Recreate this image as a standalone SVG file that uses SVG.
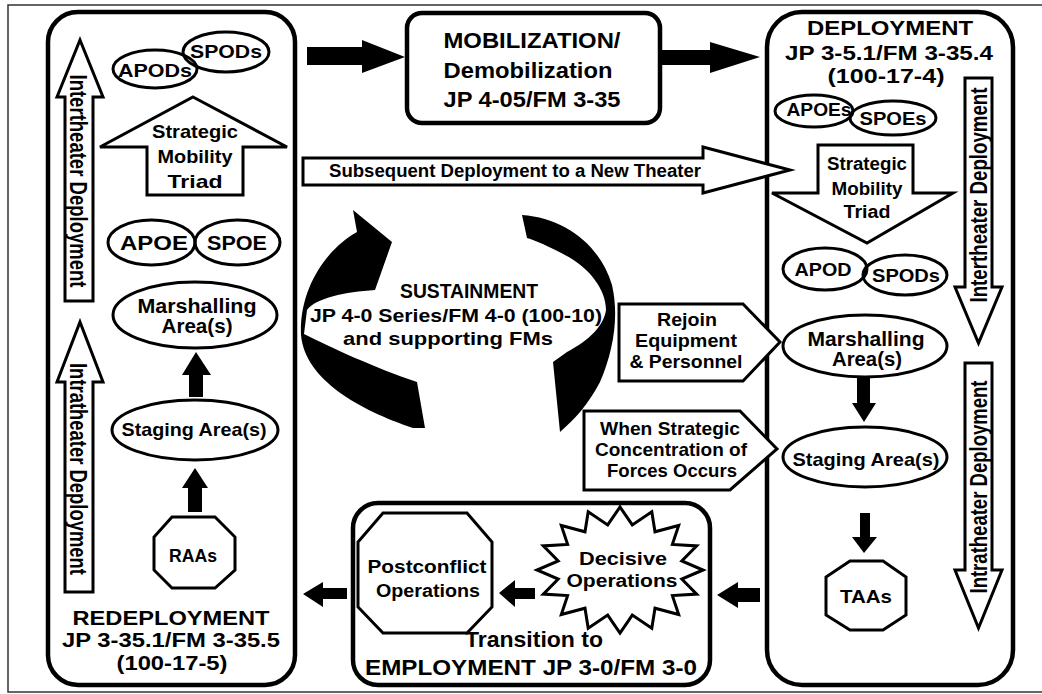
<svg xmlns="http://www.w3.org/2000/svg" width="1042" height="694" viewBox="0 0 1042 694">
<style>
.t{font-family:"Liberation Sans",Arial,Helvetica,sans-serif;font-weight:bold;fill:#000;text-anchor:middle}
.sh{fill:#fff;stroke:#000;stroke-width:3;stroke-linejoin:miter}
.ov{fill:none;stroke:#000;stroke-width:3}
.pn{fill:none;stroke:#000;stroke-width:4.5}
.bk{fill:#000;stroke:none}
</style>
<rect x="0" y="0" width="1042" height="694" fill="#fff"/>
<path d="M1042,5 H8 V692 H1042" fill="none" stroke="#333" stroke-width="1.5"/>

<g id="redeployment">
<rect class="pn" x="48" y="12" width="247" height="673" rx="30"/>
<text class="t" x="171" y="625" font-size="20" textLength="197" lengthAdjust="spacingAndGlyphs">REDEPLOYMENT</text>
<text class="t" x="171" y="647" font-size="20" textLength="218" lengthAdjust="spacingAndGlyphs">JP 3-35.1/FM 3-35.5</text>
<text class="t" x="172" y="670" font-size="20" textLength="111" lengthAdjust="spacingAndGlyphs">(100-17-5)</text>
</g>

<g id="left-intertheater">
<path class="sh" d="M80,40 L103,97 H93 V301 H65 V97 H57 Z"/>
<text class="t" transform="translate(70,181) rotate(90)" font-size="24" textLength="213" lengthAdjust="spacingAndGlyphs">Intertheater Deployment</text>
</g>
<g id="left-intratheater">
<path class="sh" d="M80,322 L103,382 H93 V592 H65 V382 H57 Z"/>
<text class="t" transform="translate(70,469) rotate(90)" font-size="24" textLength="212" lengthAdjust="spacingAndGlyphs">Intratheater Deployment</text>
</g>

<g id="apods">
<ellipse class="ov" cx="155" cy="69" rx="42" ry="19"/>
<text class="t" x="155" y="77" font-size="19" textLength="74" lengthAdjust="spacingAndGlyphs">APODs</text>
</g>
<g id="spods-left">
<ellipse class="ov" cx="226" cy="52" rx="43" ry="20"/>
<text class="t" x="226" y="58" font-size="19" textLength="72" lengthAdjust="spacingAndGlyphs">SPODs</text>
</g>
<g id="triad-left">
<path class="sh" d="M193,97 L287,147 H243 V195 H147 V147 H100 Z"/>
<text class="t" x="195" y="138" font-size="19" textLength="86" lengthAdjust="spacingAndGlyphs">Strategic</text>
<text class="t" x="195" y="163" font-size="19" textLength="75" lengthAdjust="spacingAndGlyphs">Mobility</text>
<text class="t" x="195" y="188" font-size="19" textLength="55" lengthAdjust="spacingAndGlyphs">Triad</text>
</g>
<g id="apoe">
<ellipse class="ov" cx="151.5" cy="242.5" rx="43.5" ry="22.5"/>
<text class="t" x="154" y="250" font-size="20" textLength="68" lengthAdjust="spacingAndGlyphs">APOE</text>
</g>
<g id="spoe">
<ellipse class="ov" cx="237.5" cy="242.5" rx="42.5" ry="22.5"/>
<text class="t" x="237" y="250" font-size="20" textLength="60" lengthAdjust="spacingAndGlyphs">SPOE</text>
</g>
<g id="marshalling-left">
<ellipse class="ov" cx="195" cy="315" rx="82" ry="33"/>
<text class="t" x="197" y="313" font-size="20" textLength="119" lengthAdjust="spacingAndGlyphs">Marshalling</text>
<text class="t" x="197" y="333" font-size="20" textLength="71" lengthAdjust="spacingAndGlyphs">Area(s)</text>
</g>
<g id="staging-left">
<ellipse class="ov" cx="195" cy="430" rx="83" ry="30"/>
<text class="t" x="194" y="436" font-size="19" textLength="145" lengthAdjust="spacingAndGlyphs">Staging Area(s)</text>
</g>
<g id="raas">
<polygon class="sh" points="172,517 215,517 235,537 235,570 215,588 172,588 154,570 154,537"/>
<text class="t" x="193" y="562" font-size="18" textLength="48" lengthAdjust="spacingAndGlyphs">RAAs</text>
</g>

<g id="mobilization">
<rect class="pn" x="407" y="13" width="253" height="110" rx="15"/>
<text class="t" x="532" y="48" font-size="22" textLength="177" lengthAdjust="spacingAndGlyphs">MOBILIZATION/</text>
<text class="t" x="528" y="78" font-size="22" textLength="169" lengthAdjust="spacingAndGlyphs">Demobilization</text>
<text class="t" x="532" y="107" font-size="22" textLength="177" lengthAdjust="spacingAndGlyphs">JP 4-05/FM 3-35</text>
</g>

<g id="deployment">
<rect class="pn" x="767" y="12" width="246" height="673" rx="35"/>
<text class="t" x="890" y="35" font-size="20" textLength="166" lengthAdjust="spacingAndGlyphs">DEPLOYMENT</text>
<text class="t" x="889" y="60" font-size="20" textLength="208" lengthAdjust="spacingAndGlyphs">JP 3-5.1/FM 3-35.4</text>
<text class="t" x="886" y="83" font-size="20" textLength="117" lengthAdjust="spacingAndGlyphs">(100-17-4)</text>
</g>
<g id="right-intertheater">
<path class="sh" d="M965,78 H992 V287 H1002 L978.5,343 L955,287 H965 Z"/>
<text class="t" transform="translate(987,195) rotate(-90)" font-size="24" textLength="215" lengthAdjust="spacingAndGlyphs">Intertheater Deployment</text>
</g>
<g id="right-intratheater">
<path class="sh" d="M965,363 H992 V570 H1002 L978.5,628 L955,570 H965 Z"/>
<text class="t" transform="translate(987,487) rotate(-90)" font-size="24" textLength="213" lengthAdjust="spacingAndGlyphs">Intratheater Deployment</text>
</g>
<g id="apoes">
<ellipse class="ov" cx="814" cy="111" rx="39" ry="16"/>
<text class="t" x="819" y="116" font-size="18" textLength="65" lengthAdjust="spacingAndGlyphs">APOEs</text>
</g>
<g id="spoes">
<ellipse class="ov" cx="893" cy="118" rx="43" ry="17"/>
<text class="t" x="893" y="125" font-size="18" textLength="67" lengthAdjust="spacingAndGlyphs">SPOEs</text>
</g>
<g id="triad-right">
<path class="sh" d="M818,145 H913 V193 H953 L867,243 L772,193 H818 Z"/>
<text class="t" x="867" y="170" font-size="18" textLength="80" lengthAdjust="spacingAndGlyphs">Strategic</text>
<text class="t" x="867" y="195" font-size="18" textLength="71" lengthAdjust="spacingAndGlyphs">Mobility</text>
<text class="t" x="867" y="218" font-size="18" textLength="47" lengthAdjust="spacingAndGlyphs">Triad</text>
</g>
<g id="apod">
<ellipse class="ov" cx="825" cy="269" rx="42" ry="21"/>
<text class="t" x="823" y="276" font-size="18" textLength="57" lengthAdjust="spacingAndGlyphs">APOD</text>
</g>
<g id="spods-right">
<ellipse class="ov" cx="905" cy="275" rx="42" ry="20"/>
<text class="t" x="906" y="282" font-size="18" textLength="68" lengthAdjust="spacingAndGlyphs">SPODs</text>
</g>
<g id="marshalling-right">
<ellipse class="ov" cx="865" cy="346" rx="82" ry="31"/>
<text class="t" x="866" y="346" font-size="20" textLength="117" lengthAdjust="spacingAndGlyphs">Marshalling</text>
<text class="t" x="867" y="366" font-size="20" textLength="70" lengthAdjust="spacingAndGlyphs">Area(s)</text>
</g>
<g id="staging-right">
<ellipse class="ov" cx="865" cy="457" rx="82" ry="30"/>
<text class="t" x="866" y="466" font-size="19" textLength="147" lengthAdjust="spacingAndGlyphs">Staging Area(s)</text>
</g>
<g id="taas">
<polygon class="sh" points="850,561 883,561 906,577 906,615 883,630 850,630 826,615 826,577"/>
<text class="t" x="866" y="603" font-size="18" textLength="52" lengthAdjust="spacingAndGlyphs">TAAs</text>
</g>

<g id="rejoin">
<polygon class="sh" points="619,304 743,304 780,342 743,381 619,381"/>
<text class="t" x="687" y="326" font-size="19" textLength="60" lengthAdjust="spacingAndGlyphs">Rejoin</text>
<text class="t" x="686" y="347" font-size="19" textLength="102" lengthAdjust="spacingAndGlyphs">Equipment</text>
<text class="t" x="686" y="368" font-size="19" textLength="113" lengthAdjust="spacingAndGlyphs">&amp; Personnel</text>
</g>
<g id="concentration">
<polygon class="sh" points="584,411 740,411 777,449 730,490 584,490"/>
<text class="t" x="670" y="435" font-size="19" textLength="140" lengthAdjust="spacingAndGlyphs">When Strategic</text>
<text class="t" x="671" y="456" font-size="19" textLength="152" lengthAdjust="spacingAndGlyphs">Concentration of</text>
<text class="t" x="672" y="477" font-size="19" textLength="130" lengthAdjust="spacingAndGlyphs">Forces Occurs</text>
</g>

<g id="sustainment">
<text class="t" x="469" y="298" font-size="20" textLength="138" lengthAdjust="spacingAndGlyphs">SUSTAINMENT</text>
<text class="t" x="456" y="322" font-size="19" textLength="292" lengthAdjust="spacingAndGlyphs">JP 4-0 Series/FM 4-0 (100-10)</text>
<text class="t" x="448" y="345" font-size="19" textLength="210" lengthAdjust="spacingAndGlyphs">and supporting FMs</text>
</g>

<g id="employment">
<rect class="pn" x="353" y="503" width="357" height="182" rx="25"/>
<text class="t" x="534" y="647" font-size="22" textLength="138" lengthAdjust="spacingAndGlyphs">Transition to</text>
<text class="t" x="531" y="675" font-size="22" textLength="332" lengthAdjust="spacingAndGlyphs">EMPLOYMENT JP 3-0/FM 3-0</text>
</g>
<g id="postconflict">
<polygon class="sh" points="383,513 467,513 492,542 492,607 467,633 383,633 358,607 358,542"/>
<text class="t" x="427" y="573" font-size="18" textLength="119" lengthAdjust="spacingAndGlyphs">Postconflict</text>
<text class="t" x="428" y="597" font-size="18" textLength="104" lengthAdjust="spacingAndGlyphs">Operations</text>
</g>
<g id="decisive">
<polygon class="sh" points="703,570 681.8,579 696.7,594.1 672.4,595.6 678.7,614.5 655,608.2 651.8,628.2 632.3,615.1 620,633 607.7,615.1 588.2,628.2 585,608.2 561.3,614.5 567.6,595.6 543.3,594.1 558.2,579 537,570 558.2,561 543.3,545.9 567.6,544.4 561.3,525.5 585,531.8 588.2,511.8 607.7,524.9 620,507 632.3,524.9 651.8,511.8 655,531.8 678.7,525.5 672.4,544.4 696.7,545.9 681.8,561"/>
<text class="t" x="623" y="565" font-size="18" textLength="88" lengthAdjust="spacingAndGlyphs">Decisive</text>
<text class="t" x="622" y="587" font-size="18" textLength="111" lengthAdjust="spacingAndGlyphs">Operations</text>
</g>

<g id="connectors">
<path class="bk" d="M307,47 H362 V40 L405,57 L362,73 V65 H307 Z"/>
<path class="bk" d="M660,50 H710 V42 L760,57 L710,73 V65 H660 Z"/>
<path class="bk" d="M189,397 V375 H182 L196,352 L211,375 H203 V397 Z"/>
<path class="bk" d="M188,512 V488 H182 L195,468 L208,488 H202 V512 Z"/>
<path class="bk" d="M857,377 H870 V403 H876 L864,422 L852,403 H857 Z"/>
<path class="bk" d="M860,513 H870 V537 H877 L864,553 L852,537 H860 Z"/>
<path class="bk" d="M760,588 V602 H738 V608 L717,595 L738,582 V588 Z"/>
<path class="bk" d="M535,588 V599 H515 V607 L499,593 L515,580 V588 Z"/>
<path class="bk" d="M347,588 V599 H323 V607 L303,594 L323,582 V588 Z"/>
<path class="bk" d="M353,210 L392,242 L375,290 C345,292 316,298 307,310 L304,334 C330,347 375,368 417,382 L425,428 L413,428 C360,410 305,380 301,335 C299,290 325,250 357,232 Z"/>
<path class="bk" d="M522,215 C565,218 600,245 612,285 C619,315 614,350 600,382 C588,405 574,420 560,432 L553,362 L567,352 C590,340 604,325 606,310 C606,290 590,268 565,255 C550,247 535,240 527,238 Z"/>
<g id="subsequent">
<path class="sh" d="M303,158 H703 V147 L790,170 L703,193 V185 H303 Z"/>
<text class="t" x="515" y="177" font-size="18" textLength="372" lengthAdjust="spacingAndGlyphs">Subsequent Deployment to a New Theater</text>
</g>
</g>
</svg>
